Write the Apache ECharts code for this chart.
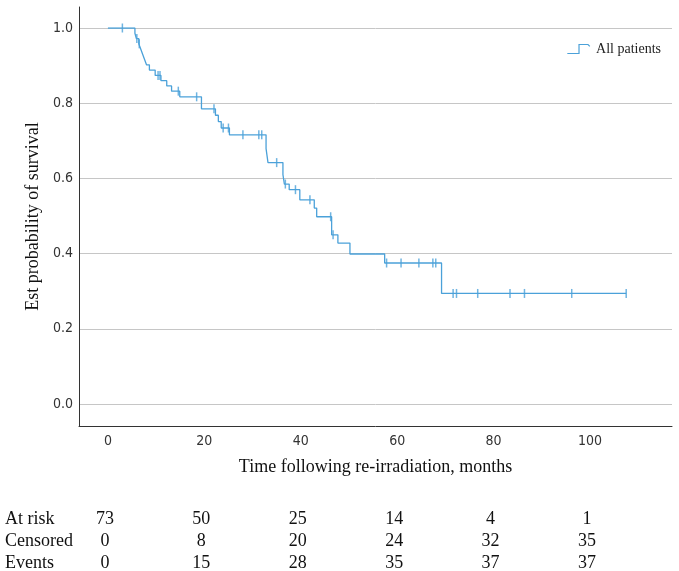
<!DOCTYPE html>
<html>
<head>
<meta charset="utf-8">
<script src="https://cdn.jsdelivr.net/npm/echarts@6/dist/echarts.min.js"></script>
<style>
html, body { margin: 0; padding: 0; background: #fff; }
#main { width: 679px; height: 571px; }
</style>
</head>
<body>
<div id="main"></div>
<script>
// Kaplan-Meier curve: time (months) and survival after each drop
var stepTimes = [0, 5.6, 5.9, 6.4, 6.8, 7.2, 7.6, 8.0, 8.6, 9.8, 11.0, 12.2, 13.2, 14.9, 19.4,
    22.3, 22.9, 23.5, 25.2, 32.8, 33.2, 36.3, 36.6, 37.6, 39.8, 42.8, 43.3, 46.4, 47.7, 50.2,
    57.4, 69.2, 107.5];
var stepSurv = [1.0, 0.986, 0.972, 0.958, 0.944, 0.930, 0.916, 0.902, 0.888, 0.874, 0.860, 0.846, 0.832, 0.817, 0.785,
    0.768, 0.751, 0.734, 0.716, 0.679, 0.642, 0.610, 0.585, 0.570, 0.543, 0.521, 0.498, 0.450, 0.428, 0.399,
    0.375, 0.294, 0.294];
// censored observations (tick marks)
var censorTimes = [3.0, 6.0, 6.5, 10.4, 10.8, 14.6, 18.4, 22.0, 23.9, 25.0, 28.0, 31.3, 31.9, 35.0,
    36.8, 38.9, 41.9, 46.2, 46.7, 57.8, 60.8, 64.5, 67.4, 68.0, 71.6, 72.3, 76.7, 83.4, 86.4, 96.2, 107.5];

var xTicks = [0, 20, 40, 60, 80, 100];

// numbers-at-risk table
var tableTimes = [0, 20, 40, 60, 80, 100];
var tableRows = ['At risk', 'Censored', 'Events'];
var atRisk = [73, 50, 25, 14, 4, 1];
var censored = [0, 8, 20, 24, 32, 35];
var events = [0, 15, 28, 35, 37, 37];

var blue = '#4ba1d9';
var serif = "'Liberation Serif', 'Times New Roman', serif";
var narrow = "'Liberation Sans Narrow', 'Arial Narrow', 'DejaVu Sans Condensed', 'Liberation Sans', sans-serif";

function survAt(t) {
    var s = stepSurv[0];
    for (var i = 0; i < stepTimes.length; i++) {
        if (stepTimes[i] <= t) s = stepSurv[i];
    }
    return s;
}

var curve = stepTimes.map(function (t, i) { return [t, stepSurv[i]]; });
var marks = censorTimes.map(function (t) { return [t, survAt(t)]; });

var chart = echarts.init(document.getElementById('main'));

var option = {
    backgroundColor: '#fff',
    animation: false,
    legend: {
        right: 13,
        top: 37,
        itemWidth: 25,
        itemHeight: 9,
        itemGap: 5,
        data: [{
            name: 'All patients',
            icon: 'path://M0,10 L13,10 L13,0 L23,0 L25,2',
            itemStyle: { color: 'rgba(0,0,0,0)', borderColor: blue, borderWidth: 1.2 }
        }],
        textStyle: { fontFamily: serif, fontSize: 14, color: '#222' }
    },
    grid: [
        // data grid: 0 .. 1 exactly on the gridlines
        { left: 79, right: 7, top: 28, bottom: 167 },
        // frame grid: axis lines, extends a bit past 0 and 1
        { left: 79, right: 7, top: 7, bottom: 145 }
    ],
    xAxis: [
        {
            gridIndex: 0, type: 'value', min: -6, max: 117,
            show: false
        },
        {
            gridIndex: 1, type: 'value', min: -6, max: 117,
            name: 'Time following re-irradiation, months',
            nameLocation: 'middle',
            nameGap: 32,
            nameTextStyle: { fontFamily: serif, fontSize: 18, color: '#111' },
            axisLine: { show: true, onZero: false, lineStyle: { color: '#333', width: 1 } },
            axisTick: { show: false },
            splitLine: { show: false },
            axisLabel: {
                customValues: xTicks,
                margin: 8,
                fontFamily: narrow, fontSize: 14, color: '#333'
            }
        }
    ],
    yAxis: [
        {
            gridIndex: 0, type: 'value', min: 0, max: 1, interval: 0.2,
            axisLine: { show: false },
            axisTick: { show: false },
            axisLabel: {
                margin: 6,
                fontFamily: narrow, fontSize: 14, color: '#333',
                formatter: function (v) { return v.toFixed(1); }
            },
            splitLine: { show: true, lineStyle: { color: '#c6c6c6', width: 1 } }
        },
        {
            gridIndex: 1, type: 'value', min: -0.056, max: 1.056,
            name: 'Est probability of survival',
            nameLocation: 'middle',
            nameGap: 37,
            nameTextStyle: { fontFamily: serif, fontSize: 18, color: '#111' },
            axisLine: { show: true, onZero: false, lineStyle: { color: '#333', width: 1 } },
            axisTick: { show: false },
            axisLabel: { show: false },
            splitLine: { show: false }
        }
    ],
    series: [
        {
            name: 'All patients',
            type: 'line',
            xAxisIndex: 0, yAxisIndex: 0,
            step: 'end',
            symbol: 'none',
            data: curve,
            lineStyle: { color: blue, width: 1.3 },
            itemStyle: { color: blue }
        },
        {
            name: 'censor',
            type: 'scatter',
            xAxisIndex: 0, yAxisIndex: 0,
            symbol: 'rect',
            symbolSize: [1.5, 9],
            data: marks,
            itemStyle: { color: blue }
        }
    ]
};

chart.setOption(option);

// at-risk table under the x axis, columns aligned with the x ticks
var rowY = [519, 541, 563];
var rows = [atRisk, censored, events];
var graphics = [];
tableRows.forEach(function (label, r) {
    graphics.push({
        type: 'text', x: 5, y: rowY[r],
        style: { text: label, font: '18px ' + serif, fill: '#111', textVerticalAlign: 'middle' }
    });
    tableTimes.forEach(function (t, c) {
        var px = chart.convertToPixel({ xAxisIndex: 1 }, t);
        graphics.push({
            type: 'text', x: px - 3, y: rowY[r],
            style: {
                text: String(rows[r][c]), font: '18px ' + serif, fill: '#111',
                textAlign: 'center', textVerticalAlign: 'middle'
            }
        });
    });
});
chart.setOption({ graphic: graphics });
</script>
</body>
</html>
